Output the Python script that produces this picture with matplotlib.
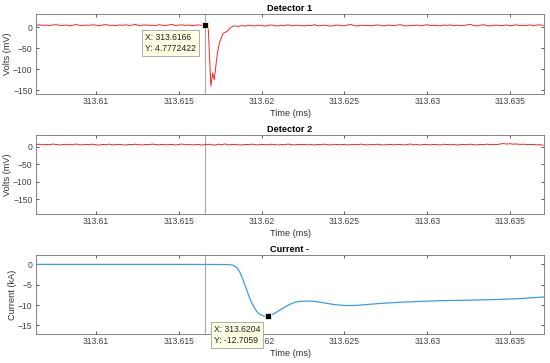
import numpy as np
import matplotlib
matplotlib.use('Agg')
import matplotlib.pyplot as plt
from matplotlib.ticker import FuncFormatter

plt.rcParams['font.family'] = ['Liberation Sans', 'DejaVu Sans']

# ---- data ----
x_range = (313.60638, 313.63705)
x_ticks = [313.61, 313.615, 313.62, 313.625, 313.63, 313.635]
cursor_t = 313.6166

# Detector 1: baseline before the dip, dip samples, baseline after
d1_pre_t = np.linspace(313.6064, 313.6164, 51)
d1_pre = [5.2, 6.1, 4.8, 5.5, 4.3, 5.9, 6.4, 5.0, 4.6, 5.8,
          3.9, 5.1, 6.7, 5.3, 4.4, 5.6, 4.9, 6.2, 5.4, 3.8,
          5.7, 6.8, 4.7, 5.2, 4.1, 5.9, 5.0, 6.3, 4.5, 5.6,
          7.1, 4.2, 5.4, 6.0, 4.8, 5.3, 3.9, 6.5, 5.1, 4.6,
          5.8, 7.0, 4.4, 5.5, 6.1, 4.9, 5.7, 4.3, 5.2, 6.0,
          4.8]
d1_dip_t = [313.6166, 313.61672, 313.61678, 313.61694, 313.61705, 313.61714,
            313.61733, 313.61745, 313.61759, 313.61769, 313.61789, 313.61809,
            313.61827]
d1_dip = [4.7772422, 4.0, -2.0, -140.0, -109.0, -125.0,
          -62.0, -38.0, -22.0, -14.0, -10.0, -2.0,
          3.0]
d1_post_t = np.linspace(313.6184, 313.6370, 94)
d1_post = [3.5, 2.1, 4.6, 3.0, 5.2, 4.1, 3.6, 5.5, 4.4, 3.2,
           4.9, 5.8, 4.0, 3.4, 5.1, 4.5, 6.2, 3.9, 4.7, 5.3,
           4.2, 3.6, 5.0, 4.4, 6.5, 3.8, 4.6, 5.2, 4.0, 3.1,
           4.8, 5.6, 4.3, 3.7, 5.9, 6.8, 4.1, 3.5, 5.4, 4.6,
           5.0, 3.9, 4.7, 6.1, 4.4, 3.6, 5.3, 4.9, 4.2, 5.7,
           6.3, 4.0, 3.4, 5.1, 4.6, 5.5, 3.8, 4.9, 6.6, 4.3,
           5.0, 4.4, 3.7, 5.6, 4.8, 6.0, 4.1, 5.2, 3.9, 4.7,
           5.8, 7.2, 4.5, 3.6, 5.3, 6.4, 4.2, 3.5, 4.9, 5.4,
           4.0, 4.6, 5.9, 3.8, 5.1, 6.2, 4.4, 5.0, 4.7, 6.0,
           4.3, 5.5, 6.1, 4.8]

# Detector 2
d2_t = np.linspace(313.6064, 313.6370, 154)
d2 = [5.5, 6.8, 4.9, 6.1, 5.3, 7.2, 5.8, 4.6, 6.0, 5.2,
      6.6, 5.0, 7.4, 5.7, 4.8, 6.3, 5.5, 6.9, 5.1, 4.4,
      6.2, 5.6, 7.0, 4.9, 5.8, 6.4, 5.2, 4.5, 6.1, 5.7,
      6.8, 5.3, 4.7, 6.0, 5.4, 7.1, 5.9, 4.8, 6.3, 5.1,
      5.6, 6.5, 4.6, 5.9, 7.3, 5.2, 6.0, 4.9, 5.5, 6.2,
      4.3, 5.7, 6.6, 5.0, 4.4, 6.9, 5.3, 7.6, 4.8, 5.9,
      6.4, 5.1, 4.7, 6.1, 5.6, 7.0, 5.4, 4.9, 6.3, 5.8,
      5.0, 6.7, 5.5, 4.6, 6.0, 5.2, 7.2, 5.7, 4.8, 6.2,
      5.4, 6.5, 5.0, 5.9, 4.5, 6.1, 5.6, 7.0, 5.3, 4.9,
      6.4, 5.8, 5.1, 6.6, 4.7, 5.5, 6.2, 5.0, 7.1, 5.7,
      4.8, 6.0, 5.4, 6.8, 5.2, 4.6, 6.3, 5.9, 5.1, 6.5,
      5.5, 4.9, 6.1, 7.3, 5.3, 5.8, 4.7, 6.4, 5.6, 5.0,
      6.2, 5.4, 4.8, 6.7, 5.9, 5.1, 6.0, 4.5, 5.7, 6.3,
      5.2, 6.9, 5.5, 4.9, 6.1, 5.6, 7.0, 5.8, 6.4, 5.3,
      7.4, 8.6, 7.1, 8.2, 6.9, 7.5, 6.2, 6.8, 5.7, 6.3,
      5.9, 4.8, 5.6, 3.9]

# Current
cur_t = [313.6064, 313.6100, 313.6150, 313.6180, 313.61827, 313.61851,
         313.61870, 313.61888, 313.61906, 313.61924, 313.61942, 313.61960,
         313.61978, 313.61996, 313.62014, 313.6204, 313.62050, 313.62080,
         313.62111, 313.62141, 313.62171, 313.62202, 313.62232, 313.62280,
         313.62322, 313.62383, 313.62443, 313.62504, 313.62564, 313.62625,
         313.62715, 313.62836, 313.62957, 313.63089, 313.63258, 313.63440,
         313.63560, 313.63705]
cur = [0.0, 0.0, 0.0, -0.05, -0.2, -0.8,
       -2.0, -3.8, -5.8, -7.9, -9.6, -10.9,
       -11.9, -12.4, -12.7, -12.7059, -12.6, -12.0,
       -11.2, -10.5, -9.8, -9.3, -9.1, -9.0,
       -9.1, -9.5, -9.9, -10.1, -10.1, -9.9,
       -9.6, -9.3, -9.1, -8.9, -8.8, -8.6,
       -8.4, -8.0]

tip1 = (313.6166, 4.7772422)
tip2 = (313.6204, -12.7059)

# ---- figure ----
fig = plt.figure(figsize=(5.5, 3.63), dpi=100)
W, H = 550.0, 363.0
def box(l, t, r, b):
    return [l / W, 1 - b / H, (r - l) / W, (b - t) / H]

ax1 = fig.add_axes(box(36, 14, 544, 94))
ax2 = fig.add_axes(box(36, 135, 544, 214))
ax3 = fig.add_axes(box(36, 255, 544, 334))

red = '#ff2020'
ax1.plot(np.concatenate([d1_pre_t, d1_dip_t, d1_post_t]),
         np.concatenate([d1_pre, d1_dip, d1_post]), color=red, lw=0.7)
ax2.plot(d2_t, d2, color=red, lw=0.7)
ax3.plot(cur_t, cur, color='#3c9de2', lw=0.9)

titles = ['Detector 1', 'Detector 2', 'Current -']
ylabels = ['Volts (mV)', 'Volts (mV)', 'Current (kA)']
ylims = [(-159, 32), (-192, 33), (-17.1, 2.3)]
yticks = [[-150, -100, -50, 0], [-150, -100, -50, 0], [-15, -10, -5, 0]]

for ax, ttl, yl, lim, yt in zip([ax1, ax2, ax3], titles, ylabels, ylims, yticks):
    ax.axvline(cursor_t, color='#a8a8a8', lw=0.8, zorder=1)
    ax.set_xlim(*x_range)
    ax.set_ylim(*lim)
    ax.set_xticks(x_ticks)
    ax.xaxis.set_major_formatter(FuncFormatter(lambda v, p: '%g' % round(v, 4)))
    ax.set_yticks(yt)
    ax.tick_params(direction='in', length=2.5, width=0.6, top=True, right=True,
                   labelsize=6.2, colors='#404040', pad=2.5)
    for s in ax.spines.values():
        s.set_color('#707070')
        s.set_linewidth(0.6)
    ax.set_title(ttl, fontsize=6.6, fontweight='bold', pad=2.5)
    ax.set_xlabel('Time (ms)', fontsize=6.6, color='#303030', labelpad=1.5)
    ax.set_ylabel(yl, fontsize=6.6, color='#303030', labelpad=0.5)

def datatip(ax, pt, off):
    ax.plot([pt[0]], [pt[1]], 's', color='black', ms=4, mec='#f4f4d8', mew=0.6, zorder=5)
    ax.annotate('X: %.4f\nY: %s' % (pt[0], ('%.7f' % pt[1]) if abs(pt[1]) < 10 else '%.4f' % pt[1]),
                xy=pt, xytext=off, textcoords='offset pixels', ha='right', va='top',
                multialignment='left',
                fontsize=6.2, color='#202020', linespacing=1.35, zorder=6,
                bbox=dict(boxstyle='square,pad=0.35', fc='#ffffe4', ec='#a0a0a0', lw=0.6),
                annotation_clip=False)

datatip(ax1, tip1, (-9, -7.5))
datatip(ax3, tip2, (-8, -8.5))

fig.savefig('out.png', dpi=100)
